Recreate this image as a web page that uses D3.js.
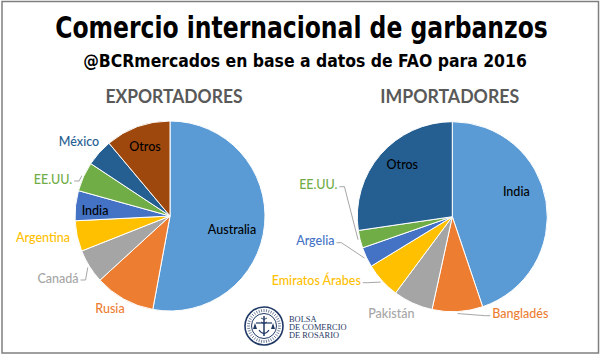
<!DOCTYPE html>
<html>
<head>
<meta charset="utf-8">
<script src="https://cdn.jsdelivr.net/npm/d3@7"></script>
<style>
  html, body { margin: 0; padding: 0; background: #fff; }
  svg { display: block; }
</style>
</head>
<body>
<div id="chart"></div>
<script>
// ---------- DATA ----------
const expCategories = ["Australia", "Rusia", "Canadá", "Argentina", "India", "EE.UU.", "México", "Otros"];
const expValues     = [52.9, 10.3, 5.8, 5.2, 5.1, 5.0, 4.6, 11.1];
const expColors     = ["#5B9BD5", "#ED7D31", "#A5A5A5", "#FFC000", "#4472C4", "#70AD47", "#255E91", "#9E480E"];

const impCategories = ["India", "Bangladés", "Pakistán", "Emiratos Árabes", "Argelia", "EE.UU.", "Otros"];
const impValues     = [44.8, 8.6, 6.75, 6.1, 3.4, 3.0, 27.3];
const impColors     = ["#5B9BD5", "#ED7D31", "#A5A5A5", "#FFC000", "#4472C4", "#70AD47", "#255E91"];

const titleText    = "Comercio internacional de garbanzos";
const subtitleText = "@BCRmercados en base a datos de FAO para 2016";
const expTitle = "EXPORTADORES";
const impTitle = "IMPORTADORES";
const logoText = ["BOLSA", "DE COMERCIO", "DE ROSARIO"];

// ---------- LAYOUT ----------
const W = 601, H = 355;
const R = 95;
const labelFont = "Lato, 'Open Sans', sans-serif";
const condFont = "'Liberation Sans Narrow', 'DejaVu Sans Condensed', 'Liberation Sans', sans-serif";

// label placement relative to pie centre; inside labels black, outside coloured
const expLabelLayout = {
  "Australia": { dx: 62, dy: 13, inside: true },
  "Otros":     { dx: -25, dy: -70, inside: true },
  "India":     { dx: -75, dy: -6, inside: true },
  "México":    { dx: -91, dy: -75 },
  "EE.UU.":    { dx: -117, dy: -37, leader: true },
  "Argentina": { dx: -127, dy: 21 },
  "Canadá":    { dx: -112, dy: 62, leader: true },
  "Rusia":     { dx: -60, dy: 92 }
};
const impLabelLayout = {
  "India":           { dx: 64, dy: -25, inside: true },
  "Otros":           { dx: -50, dy: -52, inside: true },
  "EE.UU.":          { dx: -134, dy: -32, leader: true },
  "Argelia":         { dx: -137, dy: 24, leader: true },
  "Emiratos Árabes": { dx: -136, dy: 64, leader: true },
  "Pakistán":        { dx: -61, dy: 97 },
  "Bangladés":       { dx: 68, dy: 97, leader: true }
};

const svg = d3.select("#chart").append("svg")
  .attr("width", W).attr("height", H);

svg.append("rect").attr("width", W).attr("height", H).attr("fill", "#fff");
// frame
svg.append("rect")
  .attr("x", 2).attr("y", 1.5).attr("width", 596.5).attr("height", 351.5)
  .attr("fill", "none").attr("stroke", "#7F7F7F").attr("stroke-width", 1.5);

// condensed heading: scaled horizontally to the target width
function condensedText(str, cx, baseline, size, targetW) {
  const g = svg.append("g");
  const t = g.append("text")
    .attr("x", 0).attr("y", 0)
    .attr("text-anchor", "middle")
    .attr("font-family", condFont)
    .attr("font-weight", "bold").attr("font-size", size)
    .attr("fill", "#000").text(str);
  const w = t.node().getComputedTextLength();
  g.attr("transform", `translate(${cx},${baseline}) scale(${targetW / w},1)`);
}
condensedText(titleText, 301.5, 38, 31, 493);
condensedText(subtitleText, 305, 67, 18.5, 444);

function drawPie(cx, cy, cats, vals, colors, layout, title, titleX, titleW) {
  const data = cats.map((c, i) => ({ name: c, value: vals[i], color: colors[i] }));
  const pie = d3.pie().value(d => d.value).sort(null).startAngle(0).endAngle(2 * Math.PI);
  const arcs = pie(data);
  const arc = d3.arc().innerRadius(0).outerRadius(R);

  svg.append("text")
    .attr("x", titleX).attr("y", 102.5)
    .attr("text-anchor", "middle")
    .attr("font-family", labelFont)
    .attr("font-weight", "bold").attr("font-size", 18)
    .attr("textLength", titleW).attr("lengthAdjust", "spacingAndGlyphs")
    .attr("fill", "#595959").text(title);

  const g = svg.append("g").attr("transform", `translate(${cx},${cy})`);
  g.selectAll("path.slice").data(arcs).enter().append("path")
    .attr("class", "slice")
    .attr("d", arc)
    .attr("fill", d => d.data.color)
    .attr("stroke", "#fff").attr("stroke-width", 1);

  arcs.forEach(a => {
    const L = layout[a.data.name];
    const t = g.append("text")
      .attr("x", L.dx).attr("y", L.dy)
      .attr("text-anchor", "middle")
      .attr("dominant-baseline", "central")
      .attr("font-family", labelFont)
      .attr("font-size", 12.5)
      .attr("font-weight", 500)
      .attr("fill", L.inside ? "#000" : a.data.color)
      .text(a.data.name);
    if (L.leader) {
      const w = t.node().getComputedTextLength();
      const mid = (a.startAngle + a.endAngle) / 2;
      const ex = (R + 2) * Math.sin(mid), ey = -(R + 2) * Math.cos(mid);
      const side = ex > L.dx ? 1 : -1;
      const sx = L.dx + side * (w / 2 + 2);
      const sy = L.dy + 2;
      const pts = [[sx, sy], [sx + side * 5, sy], [ex, ey]];
      g.append("path")
        .attr("d", d3.line()(pts))
        .attr("fill", "none").attr("stroke", "#A6A6A6").attr("stroke-width", 1);
    }
  });
}

drawPie(170, 216, expCategories, expValues, expColors, expLabelLayout, expTitle, 174, 137);
drawPie(452.3, 216.7, impCategories, impValues, impColors, impLabelLayout, impTitle, 449.7, 139);

// ---------- LOGO ----------
const navy = "#1F3864";
const logo = svg.append("g").attr("transform", "translate(264,326)");
logo.append("circle").attr("r", 19).attr("fill", "#fff").attr("stroke", navy).attr("stroke-width", 1.6);
logo.append("circle").attr("r", 12.5).attr("fill", "none").attr("stroke", navy).attr("stroke-width", 1);
d3.range(40).forEach(i => {
  const a = i / 40 * 2 * Math.PI;
  logo.append("line")
    .attr("x1", 14 * Math.sin(a)).attr("y1", -14 * Math.cos(a))
    .attr("x2", 17 * Math.sin(a)).attr("y2", -17 * Math.cos(a))
    .attr("stroke", navy).attr("stroke-width", 0.9).attr("opacity", 0.7);
});
logo.append("line").attr("x1", 0).attr("y1", -10).attr("x2", 0).attr("y2", 10).attr("stroke", navy).attr("stroke-width", 1.5);
logo.append("line").attr("x1", -8).attr("y1", -3).attr("x2", 8).attr("y2", -3).attr("stroke", navy).attr("stroke-width", 1.2);
logo.append("path").attr("d", "M-9,-3 L-11,3 L-7,3 Z M9,-3 L11,3 L7,3 Z").attr("fill", navy);
logo.append("path").attr("d", "M-5,4 Q0,11 5,4").attr("fill", "none").attr("stroke", navy).attr("stroke-width", 1.2);
logo.append("path").attr("d", "M-3,-8 Q0,-5 3,-8 M-3,-4 Q0,-1 3,-4").attr("fill", "none").attr("stroke", navy).attr("stroke-width", 0.9);

svg.append("g").selectAll("text").data(logoText).enter().append("text")
  .attr("x", 289).attr("y", (d, i) => 321.5 + i * 8.3)
  .attr("font-family", "'Liberation Serif', 'DejaVu Serif', serif")
  .attr("font-size", 8.4).attr("fill", navy)
  .text(d => d);
</script>
</body>
</html>
